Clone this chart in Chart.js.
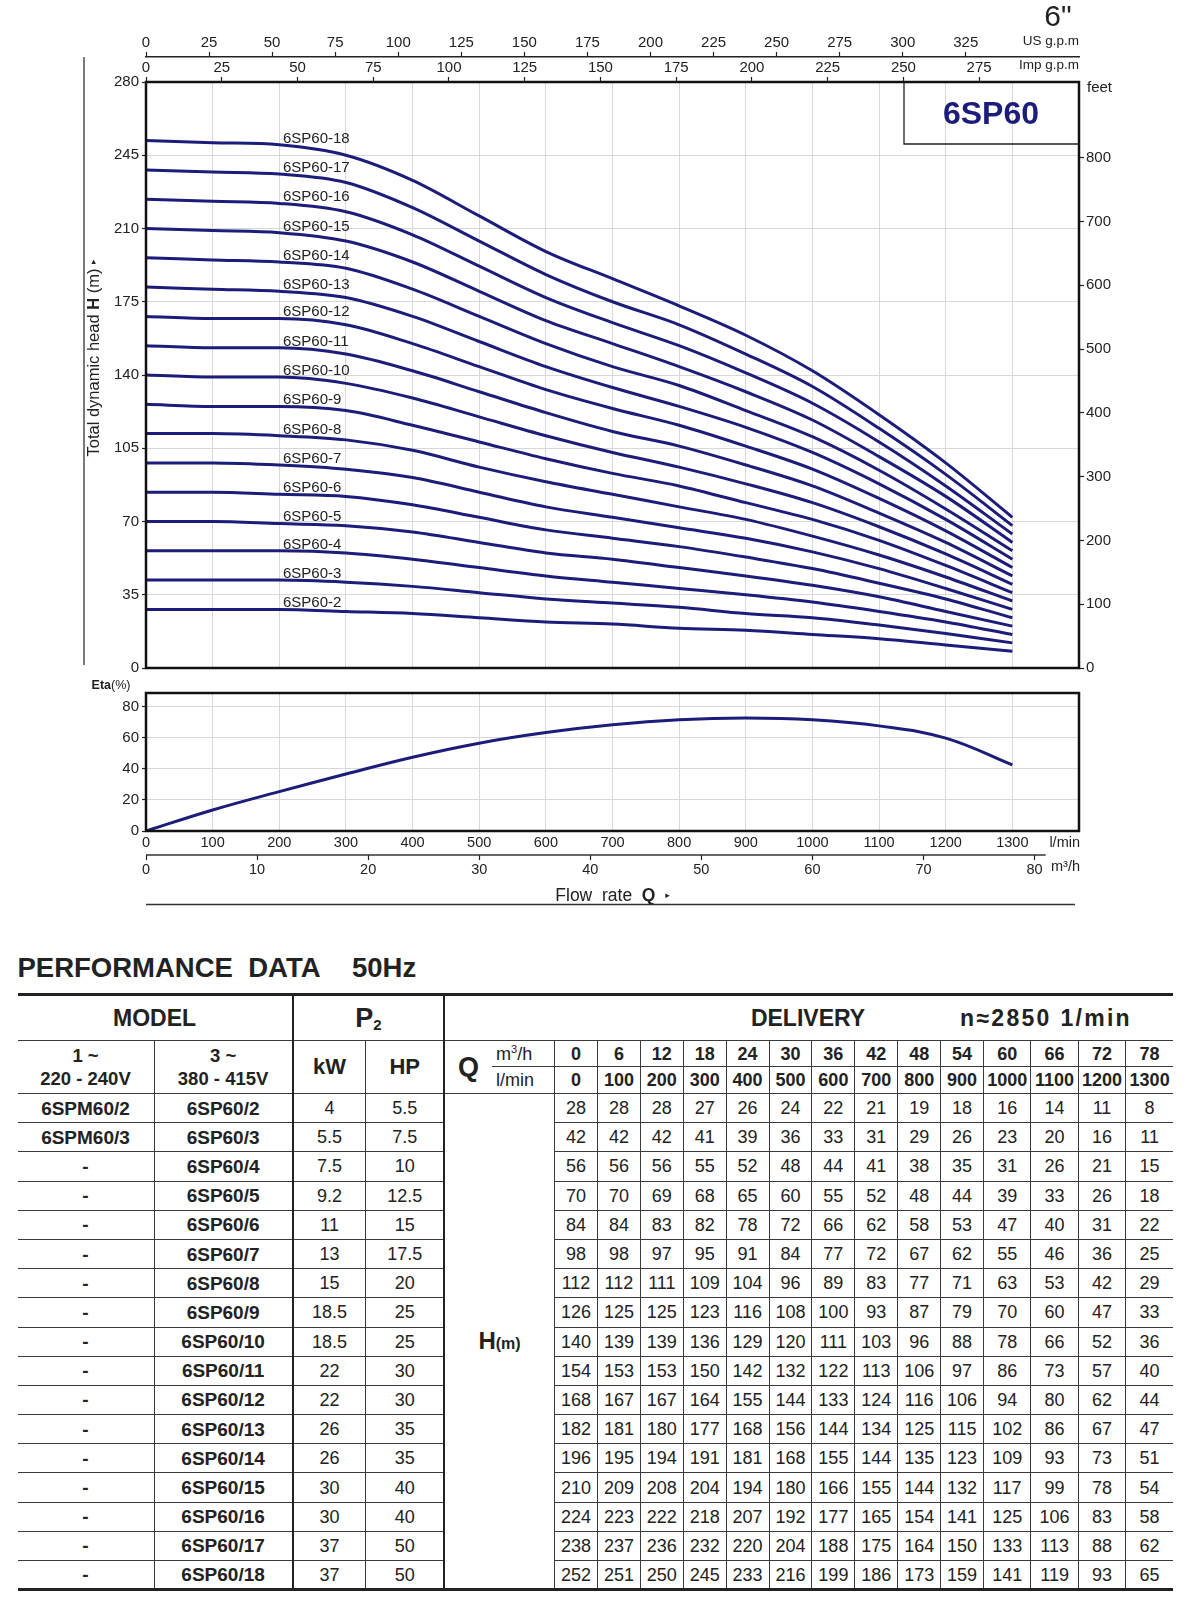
<!DOCTYPE html>
<html lang="en">
<head>
<meta charset="utf-8">
<title>6SP60 performance</title>
<script src="https://cdn.jsdelivr.net/npm/chart.js@4.4.1/dist/chart.umd.min.js"></script>
<style>
html,body{margin:0;padding:0;background:#fff;}
body{width:1200px;height:1611px;position:relative;overflow:hidden;font-family:"Liberation Sans",Arial,sans-serif;color:#222;}
#c1{position:absolute;left:0;top:0;width:1200px;height:680px;}
#c2{position:absolute;left:0;top:680px;width:1200px;height:230px;}
.ttl{position:absolute;top:952px;font-weight:bold;font-size:27.5px;line-height:31px;color:#222;white-space:nowrap;}
#perf{position:absolute;left:17.5px;top:993px;border-collapse:collapse;table-layout:fixed;width:1155.5px;color:#222;}
#perf td{border:1px solid #3a3a3a;padding:0;text-align:center;vertical-align:middle;white-space:nowrap;line-height:1;font-size:18px;overflow:hidden;}
#perf tr.r1 td{border-top:3px solid #222;font-weight:bold;font-size:23px;}
#perf tr.r1{height:46px;}
#perf tr.r2{height:26px;}
#perf tr.r3{height:27px;}
#perf tr.d{height:29.2px;}
#perf td.nl{border-left:none;}
#perf td.nr{border-right:none;}
#perf td.tk{border-right:2.5px solid #222;}
#perf td.bb{border-bottom:3px solid #222;}
#perf td.mh{font-weight:bold;font-size:18.5px;line-height:1.25;}
#perf td.big{font-weight:bold;font-size:22px;}
#perf td.q{font-weight:bold;font-size:27px;border-right:none;}
#perf td.u{border-left:none;text-align:left;padding-left:4px;font-size:18px;}
#perf td.hv{font-weight:bold;font-size:18px;}
#perf td.mn{font-weight:bold;font-size:19px;}
#perf td.hcell{font-weight:bold;}
#perf sup{font-size:11px;vertical-align:7px;line-height:0;}
.dwrap{position:relative;height:44px;}
.dwrap span{position:absolute;top:50%;transform:translate(-50%,-50%);white-space:nowrap;}
</style>
</head>
<body>
<canvas id="c1" width="1200" height="680"></canvas>
<canvas id="c2" width="1200" height="230"></canvas>
<div class="ttl" style="left:17.5px">PERFORMANCE&nbsp; DATA</div>
<div class="ttl" style="left:352px">50Hz</div>
<table id="perf"></table>
<script>
// ---------------- DATA ----------------
const qLmin = [0,100,200,300,400,500,600,700,800,900,1000,1100,1200,1300];
const qM3h  = [0,6,12,18,24,30,36,42,48,54,60,66,72,78];
const stages = [2,3,4,5,6,7,8,9,10,11,12,13,14,15,16,17,18];
const model1 = ['6SPM60/2','6SPM60/3','-','-','-','-','-','-','-','-','-','-','-','-','-','-','-'];
const model3 = ['6SP60/2','6SP60/3','6SP60/4','6SP60/5','6SP60/6','6SP60/7','6SP60/8','6SP60/9','6SP60/10','6SP60/11','6SP60/12','6SP60/13','6SP60/14','6SP60/15','6SP60/16','6SP60/17','6SP60/18'];
const powerKW = ['4','5.5','7.5','9.2','11','13','15','18.5','18.5','22','22','26','26','30','30','37','37'];
const powerHP = ['5.5','7.5','10','12.5','15','17.5','20','25','25','30','30','35','35','40','40','50','50'];

// table values (H in m) per model
const H2  = [28,28,28,27,26,24,22,21,19,18,16,14,11,8];
const H3  = [42,42,42,41,39,36,33,31,29,26,23,20,16,11];
const H4  = [56,56,56,55,52,48,44,41,38,35,31,26,21,15];
const H5  = [70,70,69,68,65,60,55,52,48,44,39,33,26,18];
const H6  = [84,84,83,82,78,72,66,62,58,53,47,40,31,22];
const H7  = [98,98,97,95,91,84,77,72,67,62,55,46,36,25];
const H8  = [112,112,111,109,104,96,89,83,77,71,63,53,42,29];
const H9  = [126,125,125,123,116,108,100,93,87,79,70,60,47,33];
const H10 = [140,139,139,136,129,120,111,103,96,88,78,66,52,36];
const H11 = [154,153,153,150,142,132,122,113,106,97,86,73,57,40];
const H12 = [168,167,167,164,155,144,133,124,116,106,94,80,62,44];
const H13 = [182,181,180,177,168,156,144,134,125,115,102,86,67,47];
const H14 = [196,195,194,191,181,168,155,144,135,123,109,93,73,51];
const H15 = [210,209,208,204,194,180,166,155,144,132,117,99,78,54];
const H16 = [224,223,222,218,207,192,177,165,154,141,125,106,83,58];
const H17 = [238,237,236,232,220,204,188,175,164,150,133,113,88,62];
const H18 = [252,251,250,245,233,216,199,186,173,159,141,119,93,65];
const headRows = [H2,H3,H4,H5,H6,H7,H8,H9,H10,H11,H12,H13,H14,H15,H16,H17,H18];

// curve values as drawn in the graph
const C2  = [28,28,28,27,26,24,22,21,19,18,16,14,11,8];
const C3  = [42,42,42,41,39,36,33,31,29,26,24,20.5,16.5,12];
const C4  = [56,56,56,55,52,48,44,41,38,35,31.5,27,22,16];
const C5  = [70,70,69,68,65,60,55,52,48,44,39.5,34,27,20];
const C6  = [84,84,83,82,78,72,66,62,58,53,47.5,40.5,33,24];
const C7  = [98,98,97,95,91,84,77,72,67,62,55.5,47.5,38,28];
const C8  = [112,112,111,109,104,96,89,83,77,71,63,54,43.5,32];
const C9  = [126,125,125,123,116,108,100,93,87,79,71,61,49,36];
const C10 = [140,139,139,136,129,120,111,103,96,88,79,67.5,54.5,40];
const C11 = [154,153,153,150,142,132,122,113,106,97,87,74,60,44];
const C12 = [168,167,167,164,155,144,133,124,116,106,95,81,65.5,48];
const C13 = [182,181,180,177,168,156,144,134,125,115,103,88,71,52];
const C14 = [196,195,194,191,181,168,155,144,135,123,110.5,94.5,76,56];
const C15 = [210,209,208,204,194,180,166,155,144,132,118.5,101,82,60];
const C16 = [224,223,222,218,207,192,177,165,154,141,126.5,108,87,64];
const C17 = [238,237,236,232,220,204,188,175,164,150,134.5,114.5,92.5,68];
const C18 = [252,251,250,245,233,216,199,186,173,159,142,121,98,72];
const curveRows = [C2,C3,C4,C5,C6,C7,C8,C9,C10,C11,C12,C13,C14,C15,C16,C17,C18];

const etaQ   = [0,100,200,300,400,500,600,700,800,900,1000,1100,1200,1300];
const etaVal = [0,13.5,25.3,36.6,47.4,56.4,63.2,68.2,71.4,72.5,71.4,67.5,59.6,42.4];

const usTicks   = [0,25,50,75,100,125,150,175,200,225,250,275,300,325];
const impTicks  = [0,25,50,75,100,125,150,175,200,225,250,275];
const headTicks = [0,35,70,105,140,175,210,245,280];
const feetTicks = [0,100,200,300,400,500,600,700,800];
const flowGrid  = [0,100,200,300,400,500,600,700,800,900,1000,1100,1200,1300,1400];
const lminTicks = [0,100,200,300,400,500,600,700,800,900,1000,1100,1200,1300];
const m3hTicks  = [0,10,20,30,40,50,60,70,80];
const etaGrid   = [0,10,20,30,40,50,60,70,80];
const etaLabels = [0,20,40,60,80];

// ---------------- CHARTS ----------------
const FONT = '"Liberation Sans", Arial, sans-serif';
Chart.defaults.font.family = FONT;
Chart.defaults.color = '#222';
const NAVY = '#1c1c7a';
const GRID = '#d8d8d8';
const tickFont = {size:15};
const setTicks = arr => s => { s.ticks = arr.map(v => ({value:v})); };
const lbl = v => String(v);

function interp(arr, q){
  for (let i=0;i<qLmin.length-1;i++){
    if (q<=qLmin[i+1]) { const t=(q-qLmin[i])/(qLmin[i+1]-qLmin[i]); return arr[i]+(arr[i+1]-arr[i])*t; }
  }
  return arr[arr.length-1];
}

function drawParts(ctx, parts, cx, cy){
  let total = 0;
  parts.forEach(p => { ctx.font = p[1]; p.w = ctx.measureText(p[0]).width; total += p.w; });
  let x = cx - total/2;
  ctx.textAlign='left'; ctx.textBaseline='middle';
  parts.forEach(p => { ctx.font = p[1]; ctx.fillText(p[0], x, cy + (p[2]||0)); x += p.w; });
}

const deco1 = {
  id:'deco1',
  afterDraw(chart){
    const {ctx, chartArea:a, scales} = chart;
    ctx.save();
    ctx.strokeStyle='#111'; ctx.lineWidth=2.5;
    ctx.strokeRect(a.left, a.top, a.right-a.left, a.bottom-a.top);
    // model box
    ctx.lineWidth=1.3; ctx.strokeStyle='#222';
    ctx.beginPath(); ctx.moveTo(a.right-175, a.top); ctx.lineTo(a.right-175, a.top+62); ctx.lineTo(a.right, a.top+62); ctx.stroke();
    ctx.fillStyle=NAVY; ctx.font='bold 32px '+FONT; ctx.textAlign='center'; ctx.textBaseline='middle';
    ctx.fillText('6SP60', a.right-88, a.top+33);
    // curve labels
    ctx.fillStyle='#222'; ctx.font='15px '+FONT; ctx.textAlign='left'; ctx.textBaseline='middle';
    const lx = 283, q = scales.x.getValueForPixel(lx);
    curveRows.forEach((arr,i) => {
      ctx.fillText('6SP60-'+stages[i], lx, scales.y.getPixelForValue(interp(arr,q)) - 6.5);
    });
    // unit labels
    ctx.font='13.5px '+FONT; ctx.textAlign='right';
    ctx.fillText('US g.p.m', a.right, 41);
    ctx.fillText('Imp g.p.m', a.right, 65);
    ctx.font='15px '+FONT; ctx.textAlign='left';
    ctx.fillText('feet', a.right+8, 88);
    ctx.font='30px '+FONT; ctx.textAlign='center';
    ctx.fillText('6"', 1058, 18);
    // left vertical rule
    ctx.lineWidth=1.3; ctx.strokeStyle='#333';
    ctx.beginPath(); ctx.moveTo(84, 57); ctx.lineTo(84, 665); ctx.stroke();
    // y title
    ctx.save(); ctx.translate(94, 358); ctx.rotate(-Math.PI/2); ctx.fillStyle='#222';
    drawParts(ctx, [['Total dynamic head ', '16.5px '+FONT], ['H', 'bold 16.5px '+FONT], [' (m) ', '16.5px '+FONT], ['\u25B8', '9px "DejaVu Sans"']], 0, 0);
    ctx.restore();
    ctx.restore();
  }
};

const datasets1 = curveRows.map((arr,i) => ({
  label:'6SP60-'+stages[i],
  data: qLmin.map((q,j) => ({x:q, y:arr[j]})),
  borderColor:NAVY, borderWidth:3, pointRadius:0, fill:false, cubicInterpolationMode:'monotone'
}));

new Chart(document.getElementById('c1'), {
  type:'line',
  data:{datasets:datasets1},
  options:{
    responsive:false, animation:false, devicePixelRatio:1,
    layout:{padding:{top:32,left:0,right:0,bottom:0}},
    plugins:{legend:{display:false}, tooltip:{enabled:false}},
    scales:{
      x:{type:'linear', position:'bottom', min:0, max:1400, afterBuildTicks:setTicks(flowGrid),
         ticks:{display:false}, grid:{color:GRID, drawTicks:false}, border:{display:false},
         afterFit:s=>{s.height=12;}},
      xImp:{type:'linear', position:'top', min:0, max:1400/4.546, afterBuildTicks:setTicks(impTicks),
         ticks:{font:tickFont, padding:0, maxRotation:0, autoSkip:false, callback:lbl},
         grid:{drawOnChartArea:false, tickLength:5, tickColor:'#222', tickWidth:1.2}, border:{display:false},
         afterFit:s=>{s.height=25;}},
      xUS:{type:'linear', position:'top', min:0, max:1400/3.785, afterBuildTicks:setTicks(usTicks),
         ticks:{font:tickFont, padding:0, maxRotation:0, autoSkip:false, callback:lbl},
         grid:{drawOnChartArea:false, tickLength:5, tickColor:'#222', tickWidth:1.2},
         border:{display:true, color:'#222', width:1.5},
         afterFit:s=>{s.height=25;}},
      y:{type:'linear', position:'left', min:0, max:280, afterBuildTicks:setTicks(headTicks),
         ticks:{font:tickFont, padding:3, callback:lbl},
         grid:{color:GRID, tickLength:4, tickColor:'#222', tickWidth:1.2}, border:{display:false},
         afterFit:s=>{s.width=146;}},
      yFt:{type:'linear', position:'right', min:0, max:280/0.3048, afterBuildTicks:setTicks(feetTicks),
         ticks:{font:tickFont, padding:2, callback:lbl},
         grid:{drawOnChartArea:false, tickLength:5, tickColor:'#222', tickWidth:1.2}, border:{display:false},
         afterFit:s=>{s.width=121;}}
    }
  },
  plugins:[deco1]
});

const deco2 = {
  id:'deco2',
  afterDraw(chart){
    const {ctx, chartArea:a, scales} = chart;
    ctx.save();
    ctx.strokeStyle='#111'; ctx.lineWidth=2.5;
    ctx.strokeRect(a.left, a.top, a.right-a.left, a.bottom-a.top);
    ctx.fillStyle='#222';
    drawParts(ctx, [['Eta', 'bold 12.5px '+FONT], ['(%)', '12.5px '+FONT]], 111, 6);
    ctx.font='14.5px '+FONT; ctx.textAlign='right'; ctx.textBaseline='middle';
    ctx.fillText('l/min', a.right+1, a.bottom+12);
    ctx.fillText('m\u00B3/h', a.right+1, a.bottom+36);
    // m3/h axis line
    const x2 = scales.x2;
    ctx.strokeStyle='#333'; ctx.lineWidth=1.5;
    ctx.beginPath(); ctx.moveTo(a.left, x2.top); ctx.lineTo(x2.getPixelForValue(81), x2.top); ctx.stroke();
    // flow rate title
    const cx = (a.left+a.right)/2;
    drawParts(ctx, [['Flow  rate  ', '17.5px '+FONT], ['Q', 'bold 17.5px '+FONT], ['  ', '17.5px '+FONT], ['\u25B8', '9px "DejaVu Sans"']], cx, 216);
    ctx.lineWidth=1.3;
    ctx.beginPath(); ctx.moveTo(a.left, 224.5); ctx.lineTo(a.right-4, 224.5); ctx.stroke();
    ctx.restore();
  }
};

new Chart(document.getElementById('c2'), {
  type:'line',
  data:{datasets:[{label:'Eta', data: etaQ.map((q,i)=>({x:q, y:etaVal[i]})),
    borderColor:NAVY, borderWidth:3, pointRadius:0, fill:false, tension:0.4}]},
  options:{
    responsive:false, animation:false, devicePixelRatio:1,
    layout:{padding:{top:13,left:0,right:121,bottom:30}},
    plugins:{legend:{display:false}, tooltip:{enabled:false}},
    scales:{
      x:{type:'linear', position:'bottom', min:0, max:1400, afterBuildTicks:setTicks(lminTicks),
         ticks:{font:{size:14.5}, padding:3, maxRotation:0, autoSkip:false, callback:lbl},
         grid:{color:GRID, drawTicks:false}, border:{display:false},
         afterFit:s=>{s.height=24;}},
      x2:{type:'linear', position:'bottom', min:0, max:84, afterBuildTicks:setTicks(m3hTicks),
         ticks:{font:{size:14.5}, padding:1, maxRotation:0, autoSkip:false, callback:lbl},
         grid:{drawOnChartArea:false, tickLength:5, tickColor:'#222', tickWidth:1.2}, border:{display:false},
         afterFit:s=>{s.height=25;}},
      y:{type:'linear', position:'left', min:0, max:88.6, afterBuildTicks:setTicks(etaGrid),
         ticks:{font:tickFont, padding:3, callback:v => etaLabels.includes(v) ? String(v) : ''},
         grid:{color:GRID, tickLength:4, tickColor:'#222', tickWidth:1.2}, border:{display:false},
         afterFit:s=>{s.width=146;}}
    }
  },
  plugins:[deco2]
});

// ---------------- TABLE ----------------
const colW = [136.5,138.7,73.3,78,48,62.6,42.9,42.9,42.9,42.9,42.9,42.9,42.9,42.9,42.9,42.9,47.4,47.4,47.4,47.4];
let html = '<colgroup>' + colW.map(w=>`<col style="width:${w}px">`).join('') + '</colgroup>';
html += '<tr class="r1"><td colspan="2" class="tk nl">MODEL</td>' +
        '<td colspan="2" class="tk"><span style="font-size:27px">P</span><span style="font-size:15px;position:relative;top:3px">2</span></td>' +
        '<td colspan="16" class="nr"><div class="dwrap"><span style="left:363px">DELIVERY</span><span style="left:601px;letter-spacing:2.3px">n\u22482850 1/min</span></div></td></tr>';
html += '<tr class="r2"><td rowspan="2" class="nl mh">1 ~<br>220 - 240V</td><td rowspan="2" class="tk mh">3 ~<br>380 - 415V</td>' +
        '<td rowspan="2" class="big">kW</td><td rowspan="2" class="tk big">HP</td><td rowspan="2" class="q">Q</td>' +
        '<td class="u">m<sup>3</sup>/h</td>' + qM3h.map((v,i)=>`<td class="hv${i===qM3h.length-1?' nr':''}">${v}</td>`).join('') + '</tr>';
html += '<tr class="r3"><td class="u">l/min</td>' + qLmin.map((v,i)=>`<td class="hv${i===qLmin.length-1?' nr':''}">${v}</td>`).join('') + '</tr>';
headRows.forEach((arr, r) => {
  const last = r === headRows.length-1 ? ' bb' : '';
  html += `<tr class="d"><td class="nl mn${last}">${model1[r]}</td><td class="tk mn${last}">${model3[r]}</td>` +
          `<td class="${last}">${powerKW[r]}</td><td class="tk${last}">${powerHP[r]}</td>`;
  if (r === 0) html += `<td colspan="2" rowspan="${headRows.length}" class="hcell bb"><span style="font-size:24px">H</span><span style="font-size:16px">(m)</span></td>`;
  html += arr.map((v,i)=>`<td class="${i===arr.length-1?'nr':''}${last}">${v}</td>`).join('') + '</tr>';
});
document.getElementById('perf').innerHTML = html;
</script>
</body>
</html>
